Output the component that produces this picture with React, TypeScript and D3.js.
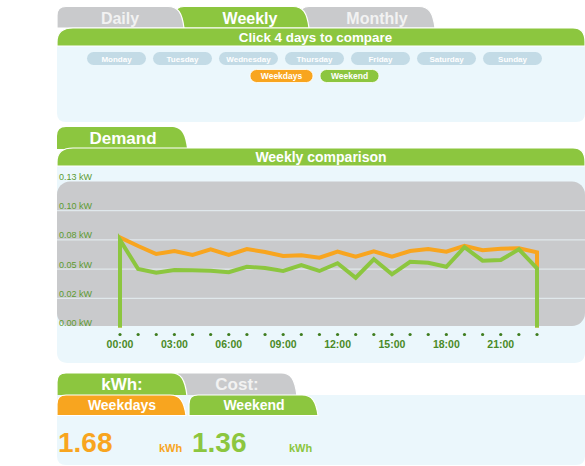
import * as d3 from 'd3'

const hours = d3.range(0, 24)
const weekdays = [0.0772, 0.0698, 0.0629, 0.0655, 0.0621, 0.0669, 0.0621, 0.0672, 0.0646, 0.0612, 0.0618, 0.0598,
  0.0649, 0.0606, 0.0652, 0.0606, 0.0655, 0.0672, 0.0649, 0.0700, 0.0661, 0.0675, 0.0678, 0.0644]
const weekend = [0.0749, 0.0501, 0.0469, 0.0492, 0.0490, 0.0486, 0.0473, 0.0520, 0.0509, 0.0484, 0.0535, 0.0484,
  0.0550, 0.0426, 0.0584, 0.0455, 0.0563, 0.0555, 0.0520, 0.0687, 0.0572, 0.0578, 0.0669, 0.0507]
const yTicks = [0, 0.025, 0.05, 0.075, 0.1, 0.125]
const yTickLabels = ['0.00 kW', '0.02 kW', '0.05 kW', '0.08 kW', '0.10 kW', '0.13 kW']
const xTickHours = [0, 3, 6, 9, 12, 15, 18, 21]
const days = ['Monday', 'Tuesday', 'Wednesday', 'Thursday', 'Friday', 'Saturday', 'Sunday']
const totals = [1.68, 1.36]

const GREEN = '#8cc63f'
const ORANGE = '#f8a51f'
const GRAY = '#c9cacc'
const PANEL = '#ebf7fc'
const PILL = '#c3dbe6'
const FONT = '"Liberation Sans", Arial, Helvetica, sans-serif'

// folder-tab shape: small round top-left, sweeping curve on the right
function tabPath(x0: number, x1: number, y0: number, y1: number) {
  return `M${x0},${y1} L${x0},${y0 + 9} Q${x0},${y0} ${x0 + 9},${y0} L${x1 - 16},${y0} ` +
    `C${x1 - 6},${y0} ${x1 - 2},${y0 + 6} ${x1},${y1} Z`
}

// panel with rounded top-left / top-right and bottom corners
function panelPath(x0: number, x1: number, y0: number, y1: number, rt: number, rb: number) {
  return `M${x0},${y0 + rt} Q${x0},${y0} ${x0 + rt},${y0} L${x1 - rt},${y0} Q${x1},${y0} ${x1},${y0 + rt} ` +
    `L${x1},${y1 - rb} Q${x1},${y1} ${x1 - rb},${y1} L${x0 + rb},${y1} Q${x0},${y1} ${x0},${y1 - rb} Z`
}

function headerPath(x0: number, x1: number, y0: number, y1: number) {
  return `M${x0},${y1} L${x0},${y0 + 14} Q${x0},${y0} ${x0 + 16},${y0} L${x1 - 12},${y0} ` +
    `Q${x1},${y0} ${x1},${y0 + 14} L${x1},${y1} Z`
}

export default function App() {
  const x = d3.scaleLinear().domain([0, 23]).range([120, 537])
  const y = d3.scaleLinear().domain([0, 0.125]).range([327.5, 181.5])

  const line = d3.line<[number, number]>()
    .x(d => x(d[0]))
    .y(d => y(d[1]))

  // series drop to the baseline at both ends
  const withBase = (vals: number[]): [number, number][] =>
    [[0, 0] as [number, number]].concat(vals.map((v, i) => [i, v] as [number, number]), [[23, 0]])

  const text = (props: any, s: string) => <text fontFamily={FONT} {...props}>{s}</text>

  return (
    <svg width={585} height={466} style={{ position: 'absolute', left: 0, top: 0, background: '#fff' }}>
      {/* top tabs */}
      <path d={tabPath(300, 435, 6.5, 28)} fill={GRAY} stroke="#fff" strokeWidth={1.2} />
      <path d={tabPath(175, 309, 6.5, 28)} fill={GREEN} stroke="#fff" strokeWidth={1.2} />
      <path d={tabPath(57, 184, 6.5, 28)} fill={GRAY} stroke="#fff" strokeWidth={1.2} />
      {text({ x: 120, y: 23.5, textAnchor: 'middle', fontSize: 16, fontWeight: 'bold', fill: '#f2f2f2' }, 'Daily')}
      {text({ x: 250, y: 23.5, textAnchor: 'middle', fontSize: 16, fontWeight: 'bold', fill: '#fff' }, 'Weekly')}
      {text({ x: 377, y: 23.5, textAnchor: 'middle', fontSize: 16, fontWeight: 'bold', fill: '#f2f2f2' }, 'Monthly')}

      {/* day picker panel */}
      <path d={panelPath(57, 585, 28, 122, 14, 9)} fill={PANEL} />
      <path d={headerPath(57, 585, 28, 46)} fill={GREEN} stroke="#fff" strokeWidth={1.2} />
      {text({ x: 315.5, y: 41.5, textAnchor: 'middle', fontSize: 13.4, fontWeight: 'bold', fill: '#fff' }, 'Click 4 days to compare')}
      {days.map((d, i) => (
        <g key={d}>
          <rect x={87 + i * 66} y={52} width={59} height={13} rx={6.5} fill={PILL} />
          {text({ x: 87 + i * 66 + 29.5, y: 61.5, textAnchor: 'middle', fontSize: 8, fontWeight: 'bold', fill: '#fff' }, d)}
        </g>
      ))}
      <rect x={250} y={69.5} width={63} height={13} rx={6.5} fill={ORANGE} stroke="#fff" strokeWidth={0.8} />
      {text({ x: 281.5, y: 79, textAnchor: 'middle', fontSize: 8.5, fontWeight: 'bold', fill: '#fff' }, 'Weekdays')}
      <rect x={320} y={69.5} width={59} height={13} rx={6.5} fill={GREEN} stroke="#fff" strokeWidth={0.8} />
      {text({ x: 349.5, y: 79, textAnchor: 'middle', fontSize: 8.5, fontWeight: 'bold', fill: '#fff' }, 'Weekend')}

      {/* demand section */}
      <path d={tabPath(57, 187, 127, 149)} fill={GREEN} />
      {text({ x: 123, y: 143.5, textAnchor: 'middle', fontSize: 17, fontWeight: 'bold', fill: '#fff' }, 'Demand')}
      <path d={panelPath(57, 585, 148, 363, 14, 11)} fill={PANEL} />
      <path d={headerPath(57, 585, 148, 166)} fill={GREEN} stroke="#fff" strokeWidth={1.2} />
      {text({ x: 321, y: 161.5, textAnchor: 'middle', fontSize: 14, fontWeight: 'bold', fill: '#fff' }, 'Weekly comparison')}

      <rect x={57} y={y(0.125)} width={528} height={326 - y(0.125)} rx={13} fill={GRAY} />
      {yTicks.slice(1, 5).map(t => (
        <line key={t} x1={57} x2={585} y1={y(t)} y2={y(t)} stroke="#e6eff3" strokeWidth={1} />
      ))}
      {yTicks.map((t, i) => (
        <g key={'l' + t}>
          {text({ x: 59, y: y(t) - 1.5, fontSize: 9, fill: '#5c9a31' }, yTickLabels[i])}
        </g>
      ))}

      <path d={line(withBase(weekdays)) || ''} fill="none" stroke={ORANGE} strokeWidth={4} strokeLinejoin="miter" />
      <path d={line(withBase(weekend)) || ''} fill="none" stroke={GREEN} strokeWidth={4} strokeLinejoin="miter" />

      {hours.map(h => (
        <circle key={h} cx={x(h)} cy={334.5} r={1.6} fill="#3f7d1f" />
      ))}
      {xTickHours.map(h => (
        <g key={'x' + h}>
          {text({ x: x(h), y: 348, textAnchor: 'middle', fontSize: 10.5, fontWeight: 'bold', fill: '#4a8a27' },
            `${String(h).padStart(2, '0')}:00`)}
        </g>
      ))}

      {/* totals section */}
      <path d={tabPath(170, 297, 373, 396)} fill={GRAY} stroke="#fff" strokeWidth={1.2} />
      <path d={tabPath(57, 187, 373, 396)} fill={GREEN} stroke="#fff" strokeWidth={1.2} />
      {text({ x: 122, y: 389.5, textAnchor: 'middle', fontSize: 17, fontWeight: 'bold', fill: '#fff' }, 'kWh:')}
      {text({ x: 237, y: 389.5, textAnchor: 'middle', fontSize: 17, fontWeight: 'bold', fill: '#f2f2f2' }, 'Cost:')}
      <path d={panelPath(57, 585, 395, 465, 0, 9)} fill={PANEL} />
      <path d={tabPath(57, 186, 395, 415.5)} fill={ORANGE} stroke="#fff" strokeWidth={1.2} />
      <path d={tabPath(189, 318, 395, 415.5)} fill={GREEN} stroke="#fff" strokeWidth={1.2} />
      {text({ x: 122, y: 410, textAnchor: 'middle', fontSize: 14, fontWeight: 'bold', fill: '#fff' }, 'Weekdays')}
      {text({ x: 254, y: 410, textAnchor: 'middle', fontSize: 14, fontWeight: 'bold', fill: '#fff' }, 'Weekend')}
      {text({ x: 58, y: 452, fontSize: 28, fontWeight: 'bold', fill: ORANGE }, totals[0].toFixed(2))}
      {text({ x: 159, y: 452, fontSize: 11, fontWeight: 'bold', fill: ORANGE }, 'kWh')}
      {text({ x: 192, y: 452, fontSize: 28, fontWeight: 'bold', fill: GREEN }, totals[1].toFixed(2))}
      {text({ x: 289, y: 452, fontSize: 11, fontWeight: 'bold', fill: GREEN }, 'kWh')}
    </svg>
  )
}
